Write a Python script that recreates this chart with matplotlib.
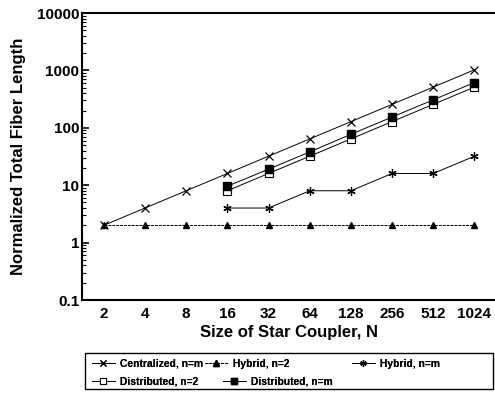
import matplotlib
matplotlib.use("Agg")
import matplotlib.pyplot as plt
import numpy as np
from matplotlib.ticker import LogLocator, NullFormatter, FixedLocator, FixedFormatter
from matplotlib.patches import Rectangle

plt.rcParams['font.family'] = ['Liberation Sans', 'DejaVu Sans']
plt.rcParams['font.weight'] = 'bold'

N = [2, 4, 8, 16, 32, 64, 128, 256, 512, 1024]
N_labels = ["2", "4", "8", "16", "32", "64", "128", "256", "512", "1024"]
centralized = [2, 4, 8, 16, 32, 64, 128, 256, 512, 1024]
hybrid_2 = [2, 2, 2, 2, 2, 2, 2, 2, 2, 2]
N_hm = [16, 32, 64, 128, 256, 512, 1024]
hybrid_m = [4, 4, 8, 8, 16, 16, 32]
N_d = [16, 32, 64, 128, 256, 512, 1024]
dist_2 = [8, 16, 32, 64, 128, 256, 512]
dist_m = [9.6, 19, 38, 77, 154, 307, 614]

W, H = 495, 398
fig = plt.figure(figsize=(W/100, H/100), dpi=100)
ax = fig.add_axes([82/W, 98/H, 413/W, 287/H])
ax.set_xscale('log', base=2)
ax.set_yscale('log')

lw = 0.7
h_c, = ax.plot(N, centralized, color='black', lw=lw, marker='x', ms=6, mew=0.9, label='Centralized, n=m')
h_h2, = ax.plot(N, hybrid_2, color='black', lw=lw, ls=(0, (3, 1)), marker='^', ms=5, label='Hybrid, n=2')
h_hm, = ax.plot(N_hm, hybrid_m, color='black', lw=lw, marker=(6, 2, 0), ms=6, mew=0.9, label='Hybrid, n=m')
h_d2, = ax.plot(N_d, dist_2, color='black', lw=lw, marker='s', ms=6, mfc='white', mew=0.8, label='Distributed, n=2')
h_dm, = ax.plot(N_d, dist_m, color='black', lw=lw, marker='s', ms=6, mfc='black', label='Distributed, n=m')

ax.set_xlim(2**0.47, 2**10.50)
ax.set_ylim(0.1, 10000)
ax.xaxis.set_major_locator(FixedLocator(N))
ax.xaxis.set_major_formatter(FixedFormatter(N_labels))
ax.xaxis.set_minor_locator(FixedLocator([]))
ax.tick_params(axis='x', length=0, labelsize=11, pad=5)
ax.set_yticks([0.1, 1, 10, 100, 1000, 10000])
ax.set_yticklabels(["0.1", "1", "10", "100", "1000", "10000"])
ax.yaxis.set_minor_locator(LogLocator(base=10, subs=np.arange(2, 10)))
ax.yaxis.set_minor_formatter(NullFormatter())
ax.tick_params(axis='y', which='major', direction='in', length=5, width=1.2, labelsize=11, pad=2)
ax.tick_params(axis='y', which='minor', direction='in', length=3, width=0.8)
for lab in ax.get_xticklabels() + ax.get_yticklabels():
    lab.set_fontweight('bold')

ax.spines['right'].set_visible(False)
for s in ['left', 'bottom', 'top']:
    ax.spines[s].set_linewidth(1.5)

ax.set_xlabel("Size of Star Coupler, N", fontsize=12, fontweight='bold', labelpad=3)
ax.set_ylabel("Normalized Total Fiber Length", fontsize=12, fontweight='bold', labelpad=8)

# legend box
fig.patches.append(Rectangle((85/W, 1 - 389/H), (493-85)/W, (389-353)/H,
                             transform=fig.transFigure, fill=False,
                             edgecolor='black', lw=1.0))

# legend entries, each placed at its own position (pixels from top-left)
entries = [(h_c, 92, 364), (h_h2, 205, 364), (h_hm, 352, 364),
           (h_d2, 92, 382), (h_dm, 223, 382)]
for h, px, py in entries:
    lg = fig.legend([h], [h.get_label()], loc='center left',
                    bbox_to_anchor=(px/W, 1 - py/H), frameon=False,
                    fontsize=7.4, borderpad=0, borderaxespad=0,
                    handlelength=2.2, handletextpad=0.55, markerscale=0.75)
    for t in lg.get_texts():
        t.set_fontweight('bold')
    fig.add_artist(lg)

fig.savefig("out.png", dpi=100)
